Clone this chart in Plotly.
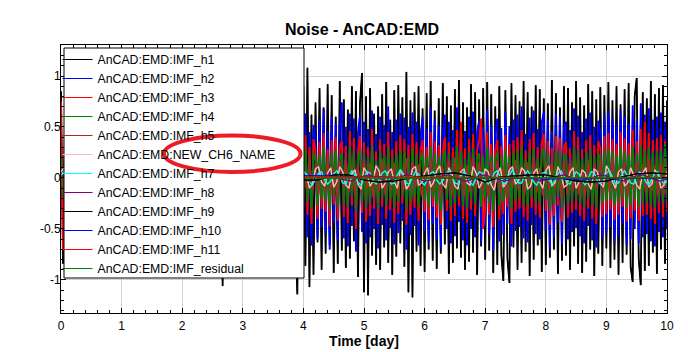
import numpy as np
import plotly.graph_objects as go

# ---------------- data ----------------
STEP_FAST = 1 / 30.0   # days, h1-h4
STEP_MID = 0.05        # days, h5-h7
STEP_SLOW = 0.1        # days, h8
STEP_TREND = 0.25      # days, h9-h11, residual

h1 = [0.85,-0.84,0.62,-0.71,0.55,-0.66,0.78,-0.58,0.69,-0.74,
      0.52,-0.81,0.73,-0.49,0.88,-0.63,0.57,-0.79,0.66,-0.55,
      0.81,-0.68,0.47,-0.86,0.71,-0.6,0.92,-0.52,0.64,-0.77,
      0.58,-0.7,0.83,-0.61,0.5,-0.89,0.76,-0.57,0.68,-0.82,
      0.61,-0.53,0.87,-0.72,0.56,-0.64,0.79,-0.88,0.6,-0.5,
      0.74,-0.8,0.53,-0.67,0.9,-0.59,0.65,-0.75,0.48,-0.84,
      0.82,-0.62,0.7,-0.56,0.59,-0.9,0.77,-0.54,0.86,-0.69,
      0.51,-0.78,0.67,-0.6,0.8,-0.73,0.55,-0.87,0.72,0.58,
      -1.06,0.63,-0.65,0.78,-0.71,0.57,-0.52,0.89,-0.83,0.6,
      -0.77,0.68,-0.58,0.84,-0.63,0.55,-0.9,0.73,-0.61,0.5,
      -0.72,0.86,-0.56,0.64,-0.85,0.7,-0.59,0.81,-0.66,0.53,
      -0.8,0.75,-0.62,0.58,-0.88,0.69,-0.54,-1.14,0.83,-0.6,
      0.9,-0.86,1.08,-1.07,0.62,-0.95,0.74,-0.63,0.88,-0.9,
      0.69,-0.74,0.92,-0.66,0.81,-0.93,0.6,-0.84,0.95,-0.71,
      0.77,-0.88,0.67,-0.79,0.9,-0.62,0.85,-0.97,0.73,1.03,
      -1.12,0.8,-1.15,0.88,-0.76,0.63,-0.85,0.7,-0.9,0.82,
      -0.68,0.94,-0.83,0.57,-0.95,0.86,-0.77,0.91,-0.64,0.79,
      -0.87,1.04,-1.12,0.76,-1.17,0.84,-0.72,0.9,-0.86,0.68,
      -0.92,0.83,-0.7,0.95,-0.81,0.66,-0.89,0.78,-0.74,0.93,
      -0.65,0.8,-0.94,0.71,-0.83,0.87,-0.69,0.96,-0.78,0.74,
      -0.9,0.69,-0.82,0.92,-0.73,0.84,-0.95,0.77,-0.67,0.88,
      -0.8,0.94,-0.71,0.82,-0.93,0.7,-0.85,0.9,-0.76,-1.01,
      0.86,-0.79,-1.03,0.93,-0.68,0.81,-0.9,0.75,-0.83,0.95,
      -0.72,0.84,-0.96,0.7,-0.8,0.91,-0.66,0.87,-0.92,0.78,
      -0.85,0.73,-0.78,0.96,-0.7,0.83,-0.94,0.69,-0.81,0.9,
      -0.76,0.88,-0.9,0.74,-0.67,0.95,-0.84,0.79,-0.93,0.71,
      -0.82,0.92,-0.7,0.85,-0.96,0.77,-0.74,0.89,-0.86,0.81,
      -0.69,0.94,-0.88,0.76,-0.8,0.9,-0.95,0.72,-0.83,0.87,
      -0.75,0.93,-0.87,-1.02,0.8,0.98,-0.79,-1.05,0.84,-0.91,
      0.78,-0.86,0.95,-0.73,0.82,-0.94,0.88,-0.7,0.91,-0.84,
      0.76]

h2 = [0.45,-0.52,0.38,-0.6,0.3,0.41,-0.47,-0.35,0.55,-0.4,
      0.33,-0.58,0.49,0.27,-0.44,0.62,-0.36,-0.5,0.42,-0.31,
      0.57,-0.46,0.29,-0.63,0.4,0.52,-0.38,0.34,-0.55,0.45,
      -0.28,0.6,-0.49,0.37,-0.42,0.54,0.3,-0.61,0.46,-0.35,
      0.5,-0.43,-0.57,0.39,0.62,-0.32,0.44,-0.53,0.36,-0.47,
      0.58,-0.4,0.31,-0.59,0.48,0.35,-0.45,0.56,-0.37,-0.52,
      0.43,-0.33,0.6,-0.5,0.38,-0.44,0.53,-0.6,0.29,0.47,
      -0.41,0.55,-0.36,0.49,-0.62,0.4,0.32,-0.48,0.57,-0.39,
      0.46,-0.55,0.34,-0.43,0.61,-0.3,-0.51,0.45,-0.38,0.53,
      -0.47,0.37,0.59,-0.42,0.33,-0.58,0.5,-0.35,0.44,-0.6,
      0.39,-0.46,0.56,-0.31,0.48,-0.54,0.35,0.6,-0.45,-0.37,
      0.52,-0.4,0.43,-0.57,0.3,0.49,-0.62,0.38,-0.44,0.55,
      -0.5,0.63,-0.58,0.45,-0.66,0.52,0.41,-0.6,0.57,-0.48,
      0.68,-0.55,0.46,-0.7,0.6,-0.44,0.53,-0.62,0.49,0.74,
      -0.59,0.5,-0.67,0.63,-0.47,0.58,-0.72,0.44,0.61,-0.53,
      0.55,-0.64,0.48,-0.58,0.66,-0.5,0.43,-0.69,0.6,-0.46,
      0.52,-0.61,0.7,-0.49,0.45,-0.65,0.57,-0.54,0.63,-0.42,
      0.59,-0.7,0.5,-0.56,0.64,-0.47,0.55,-0.66,0.42,0.6,
      -0.52,0.48,-0.63,0.68,-0.45,0.57,-0.6,0.51,-0.68,0.44,
      0.62,-0.5,0.55,-0.64,0.47,-0.57,0.69,-0.43,0.53,-0.61,
      0.46,-0.66,0.6,-0.5,0.65,-0.58,0.45,0.56,-0.63,0.5,
      -0.47,0.67,-0.55,0.52,-0.71,0.44,0.58,-0.62,0.49,-0.56,
      0.64,-0.45,0.51,-0.67,0.57,-0.52,0.62,-0.48,0.7,-0.59,
      0.43,-0.63,0.59,-0.46,0.66,-0.55,0.48,-0.6,0.54,0.65,
      -0.51,0.57,-0.69,0.46,-0.58,0.63,-0.44,0.6,-0.65,0.5,
      0.55,-0.6,0.47,-0.53,0.68,-0.49,0.61,-0.57,0.45,-0.64,
      0.58,-0.47,0.64,-0.61,0.5,-0.68,0.56,0.46,-0.59,0.62,
      -0.54,0.66,-0.48,0.59,-0.63,0.52,-0.57,0.67,-0.45,0.6,
      -0.66,0.53,-0.6,0.71,-0.5,0.56,-0.64,0.73,-0.58,0.62,
      -0.55,0.68,-0.62,0.57,-0.67,0.6,-0.53,0.64,-0.58,0.55,
      -0.5]

h3 = [0.75,-0.7,0.32,-0.25,0.18,0.3,-0.22,-0.35,0.27,-0.15,
      0.2,-0.33,0.26,0.12,-0.28,0.36,-0.19,-0.3,0.24,-0.17,
      0.31,-0.26,0.14,-0.38,0.22,0.29,-0.2,0.17,-0.32,0.25,
      -0.13,0.34,-0.27,0.19,-0.24,0.3,0.16,-0.35,0.26,-0.2,
      0.28,-0.23,-0.31,0.21,0.35,-0.18,0.25,-0.29,0.2,-0.26,
      0.33,-0.22,0.17,-0.34,0.27,0.19,-0.25,0.31,-0.21,-0.29,
      0.24,-0.18,0.34,-0.28,0.21,-0.25,0.3,-0.33,0.15,0.27,
      -0.23,0.31,-0.2,0.27,-0.35,0.22,0.18,-0.27,0.32,-0.22,
      0.26,-0.31,0.19,-0.24,0.34,-0.17,-0.29,0.25,-0.21,0.3,
      -0.26,0.2,0.33,-0.23,0.18,-0.32,0.28,-0.19,0.24,-0.34,
      0.22,-0.26,0.31,-0.17,0.27,-0.3,0.19,0.34,-0.25,-0.2,
      0.29,-0.22,0.24,-0.32,0.16,0.27,-0.35,0.21,-0.24,0.31,
      -0.28,0.42,-0.36,0.3,-0.45,0.38,0.25,-0.4,0.35,-0.3,
      0.44,-0.33,0.28,-0.47,0.37,-0.26,0.4,-0.42,0.3,0.36,
      -0.38,0.31,-0.44,0.46,-0.27,0.39,-0.5,0.24,0.41,-0.34,
      0.35,-0.43,0.3,-0.37,0.48,-0.3,0.26,-0.45,0.38,-0.28,
      0.33,-0.4,0.45,-0.31,0.28,-0.44,0.36,-0.35,0.42,-0.25,
      0.38,-0.46,0.32,-0.36,0.43,-0.29,0.35,-0.42,0.26,0.37,
      -0.33,0.3,-0.41,0.45,-0.28,0.36,-0.39,0.32,-0.46,0.27,
      0.4,-0.32,0.35,-0.42,0.29,-0.37,0.47,-0.27,0.55,-0.4,
      0.29,-0.44,0.38,-0.31,0.43,-0.37,0.28,0.36,0.58,-0.5,
      -0.3,0.45,-0.36,0.33,-0.48,0.27,0.37,-0.41,0.31,-0.35,
      0.42,-0.28,0.33,-0.45,0.37,-0.33,0.4,-0.3,0.47,-0.38,
      0.27,-0.42,0.38,-0.29,0.44,-0.36,0.3,-0.39,0.34,0.43,
      -0.32,0.36,-0.46,0.29,-0.37,0.41,-0.27,0.39,-0.43,0.31,
      0.35,-0.39,0.29,-0.34,0.46,-0.31,0.4,-0.37,0.28,-0.42,
      0.37,-0.3,0.42,-0.4,0.32,-0.45,0.36,0.29,-0.38,0.41,
      -0.35,0.44,-0.31,0.38,-0.41,0.33,-0.36,0.45,-0.28,0.39,
      -0.43,0.34,-0.39,0.47,-0.32,0.36,-0.42,0.48,-0.37,0.55,
      -0.36,0.44,-0.4,0.37,-0.45,0.39,-0.34,0.42,-0.38,0.36,
      -0.33]

h4 = [0.22,-0.18,0.12,-0.25,0.15,0.2,-0.14,-0.22,0.17,-0.1,
      0.13,-0.21,0.18,0.08,-0.19,0.24,-0.12,-0.2,0.16,-0.11,
      0.21,-0.17,0.09,-0.26,0.14,0.19,-0.13,0.11,-0.22,0.16,
      -0.09,0.23,-0.18,0.12,-0.16,0.2,0.1,-0.24,0.17,-0.13,
      0.19,-0.15,-0.21,0.14,0.24,-0.12,0.16,-0.19,0.13,-0.17,
      0.22,-0.14,0.11,-0.23,0.18,0.12,-0.16,0.21,-0.14,-0.19,
      0.16,-0.12,0.23,-0.18,0.14,-0.16,0.2,-0.22,0.1,0.18,
      -0.15,0.21,-0.13,0.18,-0.24,0.14,0.12,-0.18,0.22,-0.15,
      0.17,-0.21,0.13,-0.16,0.23,-0.11,-0.2,0.17,-0.14,0.2,
      -0.17,0.13,0.22,-0.15,0.12,-0.22,0.19,-0.13,0.16,-0.23,
      0.15,-0.17,0.21,-0.11,0.18,-0.2,0.13,0.23,-0.17,-0.13,
      0.2,-0.15,0.16,-0.22,0.1,0.18,-0.24,0.14,-0.16,0.21,
      -0.19,0.28,-0.24,0.2,-0.3,0.25,0.17,-0.27,0.23,-0.2,
      0.3,-0.22,0.19,-0.31,0.25,-0.17,0.27,-0.28,0.2,0.24,
      -0.26,0.21,-0.29,0.31,-0.18,0.26,-0.33,0.16,0.27,-0.23,
      0.24,-0.29,0.2,-0.25,0.32,-0.2,0.17,-0.3,0.26,-0.19,
      0.22,-0.27,0.3,-0.21,0.19,-0.29,0.24,-0.23,0.28,-0.17,
      0.26,-0.31,0.21,-0.24,0.29,-0.19,0.23,-0.28,0.17,0.25,
      -0.22,0.2,-0.28,0.3,-0.19,0.24,-0.26,0.21,-0.31,0.18,
      0.27,-0.21,0.23,-0.28,0.19,-0.25,0.31,-0.18,0.26,-0.27,
      0.19,-0.3,0.25,-0.21,0.29,-0.25,0.19,0.24,-0.28,0.22,
      -0.2,0.3,-0.24,0.22,-0.32,0.18,0.25,-0.27,0.21,-0.23,
      0.28,-0.19,0.22,-0.3,0.25,-0.22,0.27,-0.2,0.31,-0.26,
      0.18,-0.28,0.26,-0.19,0.29,-0.24,0.2,-0.26,0.23,0.29,
      -0.21,0.24,-0.31,0.19,-0.25,0.27,-0.18,0.26,-0.29,0.21,
      0.23,-0.26,0.19,-0.23,0.31,-0.21,0.27,-0.25,0.19,-0.28,
      0.25,-0.2,0.28,-0.27,0.21,-0.3,0.24,0.19,-0.25,0.27,
      -0.23,0.29,-0.21,0.26,-0.27,0.22,-0.24,0.3,-0.19,0.26,
      -0.29,0.23,-0.26,0.31,-0.21,0.24,-0.28,0.32,-0.25,0.27,
      -0.24,0.3,-0.27,0.25,-0.29,0.26,-0.23,0.28,-0.25,0.33,
      -0.22]

h5 = [0.12,-0.15,0.08,-0.18,0.14,-0.1,0.17,-0.13,0.09,-0.16,
      0.15,-0.11,0.19,-0.14,0.1,-0.17,0.13,-0.09,0.16,-0.12,
      0.11,-0.18,0.14,-0.1,0.18,-0.13,0.08,-0.15,0.17,-0.11,
      0.13,-0.16,0.1,-0.19,0.15,-0.12,0.18,-0.08,0.12,-0.17,
      0.16,-0.1,0.14,-0.15,0.09,-0.18,0.19,-0.13,0.11,-0.14,
      0.17,-0.12,0.1,-0.16,0.15,-0.11,0.13,-0.19,0.18,-0.09,
      0.12,-0.15,0.2,-0.13,0.09,-0.17,0.14,-0.12,0.16,-0.1,
      0.18,-0.14,0.11,-0.18,0.13,-0.1,0.17,-0.15,0.1,-0.19,
      0.15,-0.11,0.19,-0.12,0.14,-0.16,0.09,-0.13,0.18,-0.15,
      0.12,-0.18,0.16,-0.09,0.2,-0.14,0.11,-0.17,0.13,-0.12,
      0.17,-0.1,0.14,-0.19,0.1,-0.13,0.18,-0.16,0.12,-0.11,
      0.15,-0.17,0.09,-0.14,0.19,-0.12,0.16,-0.1,0.13,-0.18,
      0.11,-0.15,0.18,-0.13,0.14,-0.19,0.1,-0.12,0.17,-0.16,
      0.2,-0.11,0.13,-0.17,0.12,-0.14,0.19,-0.1,0.15,-0.13,
      0.09,-0.18,0.16,-0.12,0.18,-0.15,0.11,-0.19,0.14,-0.1,
      0.17,-0.13,0.12,-0.16,0.15,-0.11,0.2,-0.14,0.1,-0.17,
      0.14,-0.12,0.18,-0.1,0.11,-0.18,0.16,-0.15,0.19,-0.13,
      0.13,-0.16,0.1,-0.19,0.17,-0.12,0.14,-0.11,0.18,-0.15,
      0.12,-0.14,0.19,-0.13,0.1,-0.17,0.15,-0.18,0.11,-0.12,
      0.16,-0.1,0.13,-0.15,0.18,-0.13,0.12,-0.17,0.14,-0.16,
      0.15]

h6 = [0.06,0.1,-0.04,-0.09,0.05,0.11,-0.03,-0.1,0.07,0.08,
      -0.06,-0.11,0.04,0.09,-0.05,-0.08,0.1,0.05,-0.09,-0.04,
      0.08,0.11,-0.07,-0.05,0.09,0.03,-0.1,-0.06,0.07,0.1,
      -0.04,-0.09,0.06,0.12,-0.08,-0.03,0.1,0.05,-0.11,-0.07,
      0.04,0.09,-0.06,-0.1,0.11,0.06,-0.05,-0.09,0.08,0.04,
      -0.1,-0.06,0.07,0.11,-0.04,-0.08,0.05,0.1,-0.07,-0.11,
      0.09,0.05,-0.06,-0.1,0.12,0.07,-0.03,-0.09,0.06,0.1,
      -0.08,-0.05,0.1,0.04,-0.11,-0.07,0.08,0.12,-0.05,-0.09,
      0.07,0.03,-0.1,-0.06,0.09,0.11,-0.04,-0.08,0.05,0.1,
      -0.09,-0.04,0.11,0.06,-0.07,-0.1,0.04,0.08,-0.06,-0.11,
      0.1,0.05,-0.08,-0.03,0.12,0.07,-0.1,-0.05,0.06,0.09,
      -0.04,-0.1,0.08,0.04,-0.11,-0.06,0.09,0.11,-0.07,-0.05,
      0.05,0.1,-0.09,-0.04,0.07,0.12,-0.06,-0.1,0.1,0.04,
      -0.08,-0.11,0.06,0.09,-0.05,-0.07,0.11,0.05,-0.1,-0.04,
      0.09,0.06,-0.07,-0.12,0.04,0.1,-0.09,-0.05,0.08,0.11,
      -0.06,-0.03,0.1,0.07,-0.11,-0.08,0.05,0.09,-0.04,-0.1,
      0.07,0.12,-0.08,-0.05,0.11,0.04,-0.09,-0.07,0.06,0.1,
      -0.1,-0.04,0.08,0.05,-0.06,-0.11,0.09,0.06,-0.05,-0.09,
      0.12,0.07,-0.04,-0.1,0.06,0.09,-0.08,-0.05,0.1,0.03,
      -0.07,-0.11,0.05,0.1,-0.09,-0.06,0.08,0.04,-0.1,-0.07,
      0.06]

h7 = [0.02,0.07,0.03,-0.05,-0.06,0.01,0.06,0.04,-0.03,-0.07,
      -0.01,0.05,0.06,-0.02,-0.06,-0.04,0.03,0.08,0.02,-0.05,
      -0.05,0.02,0.07,0.03,-0.04,-0.07,0.0,0.06,0.05,-0.03,
      -0.06,-0.02,0.05,0.07,0.01,-0.06,-0.05,0.03,0.06,0.02,
      -0.05,-0.06,0.01,0.07,0.04,-0.04,-0.07,-0.01,0.05,0.06,
      -0.02,-0.06,-0.03,0.04,0.07,0.01,-0.05,-0.06,0.02,0.06,
      0.03,-0.04,-0.07,0.0,0.06,0.05,-0.03,-0.06,-0.02,0.05,
      0.07,0.01,-0.06,-0.04,0.03,0.08,0.03,-0.05,-0.06,0.01,
      0.06,0.04,-0.03,-0.07,-0.01,0.05,0.06,-0.02,-0.06,-0.03,
      0.04,0.07,0.02,-0.05,-0.06,0.02,0.07,0.03,-0.04,-0.07,
      0.0,0.06,0.05,-0.03,-0.06,-0.02,0.05,0.07,0.01,-0.06,
      -0.05,0.03,0.08,0.02,-0.05,-0.06,0.01,0.06,0.04,-0.04,
      -0.07,-0.01,0.05,0.06,-0.02,-0.06,-0.03,0.04,0.07,0.01,
      -0.05,-0.06,0.02,0.06,0.03,-0.04,-0.07,0.0,0.06,0.05,
      -0.03,-0.06,-0.02,0.05,0.07,0.01,-0.06,-0.04,0.03,0.08,
      0.02,-0.05,-0.05,0.02,0.07,0.03,-0.04,-0.07,-0.01,0.05,
      0.06,-0.02,-0.06,-0.03,0.04,0.07,0.02,-0.05,-0.06,0.01,
      0.06,0.04,-0.03,-0.07,0.0,0.06,0.05,-0.03,-0.06,-0.02,
      0.05,0.07,0.01,-0.06,-0.05,0.03,0.07,0.02,-0.05,-0.06,
      0.02,0.06,0.03,-0.04,-0.07,-0.01,0.05,0.06,-0.02,-0.06,
      -0.03]

h8 = [0.01,0.03,0.02,-0.01,-0.03,-0.02,0.01,0.03,0.02,-0.02,
      -0.03,-0.01,0.02,0.03,0.01,-0.02,-0.03,-0.01,0.01,0.03,
      0.02,-0.01,-0.03,-0.02,0.01,0.02,0.03,0.0,-0.02,-0.03,
      -0.01,0.02,0.03,0.01,-0.02,-0.03,-0.02,0.01,0.03,0.02,
      -0.01,-0.03,-0.02,0.01,0.03,0.02,-0.01,-0.02,-0.03,0.0,
      0.02,0.03,0.01,-0.02,-0.03,-0.01,0.01,0.03,0.02,-0.01,
      -0.03,-0.02,0.01,0.02,0.03,0.0,-0.02,-0.03,-0.01,0.02,
      0.03,0.01,-0.01,-0.03,-0.02,0.01,0.03,0.02,-0.01,-0.03,
      -0.02,0.0,0.02,0.03,0.01,-0.02,-0.03,-0.01,0.01,0.03,
      0.02,-0.01,-0.02,-0.03,0.0,0.02,0.03,0.01,-0.02,-0.03,
      -0.01]

h9 = [0.0,0.02,0.03,0.01,-0.02,-0.03,-0.01,0.02,0.03,0.01,
      -0.02,-0.03,-0.01,0.02,0.02,0.0,-0.02,-0.02,0.03,0.03,
      -0.02,-0.04,-0.03,0.0,0.02,0.04,0.05,0.02,-0.04,0.01,
      0.02,0.03,0.03,0.0,-0.03,-0.04,-0.03,0.01,0.04,0.05,
      0.04]

h10 = [0.01,0.015,0.02,0.02,0.025,0.02,0.02,0.015,0.02,0.025,
       0.02,0.02,0.015,0.02,0.02,0.025,0.02,0.02,0.015,0.015,
       0.01,0.01,0.005,0.005,0.0,0.0,0.0,-0.005,-0.005,0.0,
       -0.005,-0.005,-0.01,-0.005,-0.01,-0.005,-0.005,0.0,-0.005,-0.005,
       0.0]

h11 = [0.02,0.02,0.018,0.018,0.016,0.016,0.015,0.015,0.014,0.014,
       0.013,0.013,0.012,0.012,0.012,0.011,0.011,0.01,0.01,0.01,
       0.009,0.009,0.008,0.008,0.007,0.007,0.006,0.006,0.005,0.005,
       0.005,0.004,0.004,0.003,0.003,0.003,0.002,0.002,0.003,0.004,
       0.005]

residual = [-0.004,-0.004,-0.003,-0.003,-0.003,-0.002,-0.002,-0.002,-0.002,-0.001,
            -0.001,-0.001,-0.001,0.0,0.0,0.0,0.0,0.0,0.001,0.001,
            0.001,0.001,0.001,0.001,0.001,0.002,0.002,0.002,0.002,0.002,
            0.002,0.002,0.002,0.002,0.002,0.002,0.002,0.002,0.002,0.002,
            0.002]

series_names = ["AnCAD:EMD:IMF_h1", "AnCAD:EMD:IMF_h2", "AnCAD:EMD:IMF_h3",
                "AnCAD:EMD:IMF_h4", "AnCAD:EMD:IMF_h5", "AnCAD:EMD:NEW_CH6_NAME",
                "AnCAD:EMD:IMF_h7", "AnCAD:EMD:IMF_h8", "AnCAD:EMD:IMF_h9",
                "AnCAD:EMD:IMF_h10", "AnCAD:EMD:IMF_h11", "AnCAD:EMD:IMF_residual"]
series_values = [h1, h2, h3, h4, h5, h6, h7, h8, h9, h10, h11, residual]
series_steps = [STEP_FAST] * 4 + [STEP_MID] * 3 + [STEP_SLOW] + [STEP_TREND] * 4
series_colors = ["#000000", "#0000FF", "#FF0000", "#008000", "#A52A2A", "#FFB6C1",
                 "#00FFFF", "#800080", "#000000", "#0000FF", "#FF0000", "#008000"]
series_widths = [1.8, 1.8, 1.8, 1.8, 1.4, 1.2, 1.2, 1, 1.2, 1.2, 1.2, 1]

x_ticks = [0, 1, 2, 3, 4, 5, 6, 7, 8, 9, 10]
y_ticks = [-1, -0.5, 0, 0.5, 1]
y_tick_text = ["-1", "-0.5", "0", "0.5", "1"]

# ---------------- figure ----------------
FONT = "Arial, 'Liberation Sans', sans-serif"
fig = go.Figure()
for name, vals, step, col, lw in zip(series_names, series_values, series_steps,
                                     series_colors, series_widths):
    t = np.arange(len(vals)) * step
    # data trace (thicker strokes, like the dense original sampling)
    fig.add_trace(go.Scatter(x=t, y=vals, mode="lines", name=name,
                             showlegend=False, line=dict(color=col, width=lw),
                             hoverinfo="skip"))
    # same series drawn thin; this one carries the legend entry
    fig.add_trace(go.Scatter(x=t, y=vals, mode="lines", name=name,
                             showlegend=True, line=dict(color=col, width=1),
                             hoverinfo="skip"))

W, H = 688, 352
ML, MR, MT, MB = 61, 21, 45, 39
PW, PH = W - ML - MR, H - MT - MB


def px_x(p):
    return (p - ML) / PW


def px_y(p):
    return (H - MB - p) / PH


TICKFONT = dict(family=FONT, size=12, color="black")
axis_common = dict(ticks="inside", ticklen=5, tickcolor="black", tickwidth=1,
                   showline=True, linecolor="black", linewidth=1, mirror="allticks",
                   showgrid=True, gridcolor="#d0d0d0", gridwidth=1, zeroline=False,
                   tickfont=TICKFONT, automargin=False)

fig.update_layout(
    width=W, height=H,
    margin=dict(l=ML, r=MR, t=MT, b=MB, autoexpand=False),
    paper_bgcolor="white", plot_bgcolor="white",
    title=dict(text="<b>Noise - AnCAD:EMD</b>", xref="paper", x=px_x(362), xanchor="center",
               y=1 - 29 / H, yanchor="middle",
               font=dict(family=FONT, size=16, color="black")),
    xaxis=dict(range=[0, 10], tickvals=x_ticks, ticktext=[str(v) for v in x_ticks],
               ticklabelstandoff=2,
               minor=dict(dtick=0.2, ticks="inside", ticklen=3, tickcolor="black", showgrid=False),
               title=dict(text="<b>Time [day]</b>", standoff=2,
                          font=dict(family=FONT, size=14, color="black")),
               **axis_common),
    yaxis=dict(range=[-1.324, 1.304], tickvals=y_ticks, ticktext=y_tick_text,
               ticklabelstandoff=-3,
               minor=dict(dtick=0.1, ticks="inside", ticklen=3, tickcolor="black", showgrid=False),
               **axis_common),
    showlegend=True,
    legend=dict(x=px_x(57.5), xanchor="left", y=1.0, yanchor="top",
                bgcolor="rgba(0,0,0,0)", borderwidth=0,
                font=dict(family=FONT, size=12.3, color="black"),
                itemclick=False, itemdoubleclick=False),
    shapes=[
        dict(type="rect", xref="paper", yref="paper", layer="above",
             x0=px_x(64), x1=px_x(304), y0=px_y(278), y1=px_y(48),
             fillcolor="white", line=dict(color="black", width=1)),
        dict(type="circle", xref="paper", yref="paper", layer="above",
             x0=px_x(164), x1=px_x(300.5), y0=px_y(172), y1=px_y(135.5),
             line=dict(color="#ED1C24", width=4)),
    ],
)

fig.write_html("out.html")
